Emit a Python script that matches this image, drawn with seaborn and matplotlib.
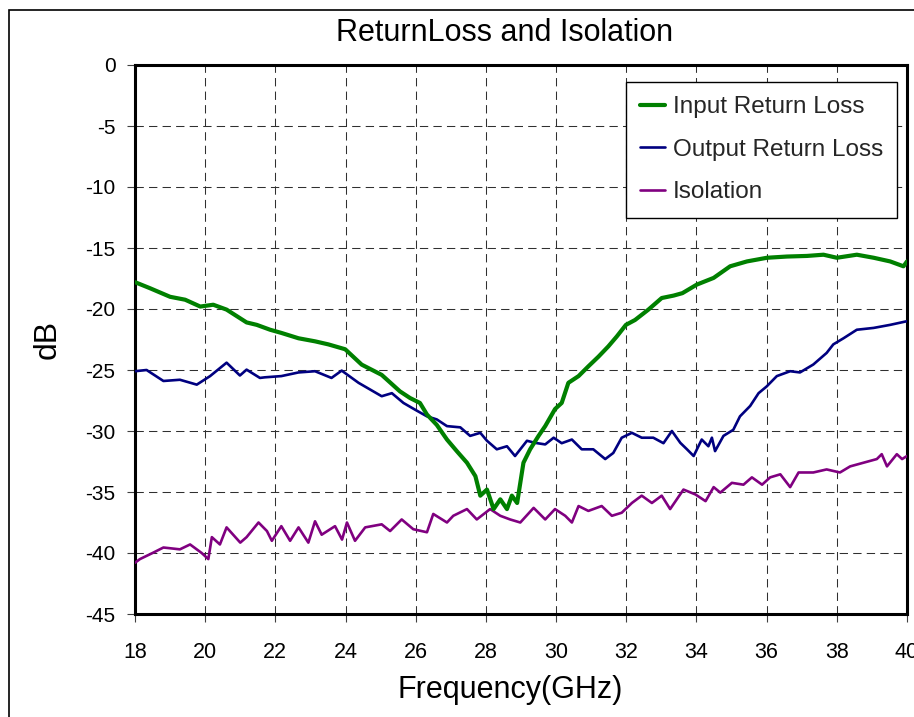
import matplotlib
matplotlib.use("Agg")
import matplotlib.pyplot as plt
import seaborn as sns
import pandas as pd
from matplotlib.patches import Rectangle

# ---------------- data ----------------
freq_input = [18.0, 18.43, 19.0, 19.43, 19.86, 20.23, 20.61, 21.18, 21.47, 21.85,
              22.17, 22.66, 23.13, 23.51, 23.99, 24.46, 25.03, 25.55, 25.84, 26.12,
              26.32, 26.6, 26.89, 27.17, 27.46, 27.7, 27.84, 28.03, 28.22, 28.41,
              28.6, 28.74, 28.89, 29.07, 29.26, 29.5, 29.69, 29.97, 30.16, 30.35,
              30.64, 30.92, 31.21, 31.49, 31.73, 31.99, 32.25, 32.63, 33.01, 33.35,
              33.6, 34.01, 34.49, 34.96, 35.44, 36.01, 36.58, 37.15, 37.62, 38.0,
              38.57, 39.05, 39.52, 39.9, 40.0]
input_rl = [-17.8, -18.3, -19.0, -19.24, -19.8, -19.65, -20.05, -21.1, -21.3, -21.7,
            -21.96, -22.4, -22.65, -22.9, -23.3, -24.56, -25.4, -26.75, -27.3, -27.7,
            -28.65, -29.5, -30.7, -31.65, -32.6, -33.7, -35.3, -34.8, -36.4, -35.6,
            -36.4, -35.3, -35.9, -32.6, -31.5, -30.4, -29.6, -28.2, -27.7, -26.05,
            -25.5, -24.7, -23.9, -23.06, -22.25, -21.3, -20.9, -20.05, -19.1, -18.9,
            -18.7, -18.0, -17.45, -16.5, -16.1, -15.8, -15.7, -15.65, -15.55, -15.8,
            -15.55, -15.8, -16.1, -16.5, -16.1]

freq_output = [18.0, 18.33, 18.81, 19.28, 19.76, 20.14, 20.61, 20.99, 21.18, 21.56,
               21.7, 22.17, 22.66, 23.13, 23.6, 23.89, 24.37, 25.03, 25.32, 25.65,
               25.98, 26.32, 26.6, 26.89, 27.27, 27.55, 27.84, 28.03, 28.31, 28.6,
               28.83, 29.17, 29.4, 29.69, 29.93, 30.16, 30.45, 30.73, 31.06, 31.4,
               31.63, 31.87, 32.16, 32.44, 32.77, 33.06, 33.3, 33.54, 33.73, 33.92,
               34.15, 34.34, 34.44, 34.53, 34.77, 35.05, 35.24, 35.53, 35.77, 36.0,
               36.29, 36.67, 36.95, 37.33, 37.71, 37.9, 38.19, 38.57, 39.05, 39.52, 40.0]
output_rl = [-25.1, -25.0, -25.9, -25.8, -26.2, -25.5, -24.4, -25.45, -24.97, -25.65,
             -25.6, -25.5, -25.2, -25.1, -25.65, -25.05, -26.05, -27.15, -26.9, -27.7,
             -28.25, -28.8, -29.05, -29.6, -29.7, -30.4, -30.15, -30.8, -31.5, -31.25,
             -32.05, -30.8, -30.97, -31.1, -30.55, -31.0, -30.7, -31.5, -31.5, -32.3,
             -31.8, -30.55, -30.15, -30.55, -30.55, -31.0, -30.0, -30.97, -31.5, -32.05,
             -30.7, -31.25, -30.55, -31.65, -30.4, -29.9, -28.8, -27.95, -26.9, -26.35,
             -25.5, -25.1, -25.2, -24.55, -23.6, -22.9, -22.4, -21.7, -21.55, -21.3, -21.0]

freq_iso = [18.0, 18.14, 18.5, 18.81, 19.28, 19.57, 19.9, 20.09, 20.19, 20.42,
            20.61, 21.0, 21.18, 21.52, 21.76, 21.9, 22.17, 22.42, 22.66, 22.94,
            23.13, 23.32, 23.7, 23.9, 24.04, 24.27, 24.56, 25.03, 25.27, 25.6,
            25.93, 26.32, 26.5, 26.89, 27.07, 27.46, 27.74, 28.12, 28.41, 28.69,
            28.98, 29.36, 29.69, 29.97, 30.26, 30.45, 30.64, 30.92, 31.3, 31.59,
            31.87, 32.16, 32.44, 32.73, 33.01, 33.25, 33.63, 33.97, 34.26, 34.49,
            34.68, 35.01, 35.34, 35.58, 35.87, 36.1, 36.39, 36.67, 36.91, 37.33,
            37.71, 38.09, 38.38, 38.76, 39.14, 39.28, 39.43, 39.71, 39.86, 40.0]
isolation = [-40.8, -40.5, -40.0, -39.55, -39.7, -39.3, -40.0, -40.5, -38.7, -39.3,
             -37.9, -39.15, -38.7, -37.5, -38.2, -39.0, -37.8, -39.0, -37.9, -39.15,
             -37.4, -38.5, -37.8, -38.9, -37.5, -39.0, -37.9, -37.65, -38.2, -37.25,
             -38.05, -38.3, -36.8, -37.5, -36.95, -36.4, -37.25, -36.4, -36.95, -37.25,
             -37.5, -36.3, -37.25, -36.4, -36.95, -37.5, -36.15, -36.55, -36.15, -36.95,
             -36.7, -35.9, -35.3, -35.9, -35.3, -36.4, -34.8, -35.2, -35.75, -34.6,
             -35.05, -34.25, -34.4, -33.8, -34.4, -33.8, -33.55, -34.6, -33.4, -33.4,
             -33.15, -33.4, -32.9, -32.6, -32.3, -31.9, -32.9, -31.9, -32.3, -32.05]

series_names = ["Input Return Loss", "Output Return Loss", "Isolation"]
series_colors = ["#008000", "#000080", "#800080"]
x_ticks = list(range(18, 41, 2))
y_ticks = list(range(-45, 1, 5))

# ---------------- plotting ----------------
sns.set_theme(style="white")
plt.rcParams["font.family"] = ["Liberation Sans", "DejaVu Sans"]

fig = plt.figure(figsize=(9.14, 7.17), dpi=100)
ax = fig.add_axes([135 / 914, 1 - 614 / 717, (907 - 135) / 914, (614 - 65) / 717])

df_in = pd.DataFrame({"f": freq_input, "v": input_rl})
df_out = pd.DataFrame({"f": freq_output, "v": output_rl})
df_iso = pd.DataFrame({"f": freq_iso, "v": isolation})

sns.lineplot(data=df_in, x="f", y="v", ax=ax, color=series_colors[0], lw=3.0,
             label=series_names[0], zorder=4)
sns.lineplot(data=df_out, x="f", y="v", ax=ax, color=series_colors[1], lw=1.9,
             label=series_names[1], zorder=3)
sns.lineplot(data=df_iso, x="f", y="v", ax=ax, color=series_colors[2], lw=1.9,
             label=series_names[2], zorder=3)

ax.set_xlim(18, 40)
ax.set_ylim(-45, 0)
ax.set_xticks(x_ticks)
ax.set_yticks(y_ticks)
ax.set_xticklabels([str(t) for t in x_ticks])
ax.set_yticklabels([str(t) for t in y_ticks])
ax.grid(True, color="#303030", linestyle=(0, (8, 5)), linewidth=0.75)
ax.set_axisbelow(True)

for s in ax.spines.values():
    s.set_visible(True)
    s.set_color("black")
    s.set_linewidth(2.2)

ax.tick_params(axis="x", which="major", direction="out", length=6, width=0.8,
               color="#404040", pad=14, labelsize=15.5, bottom=True)
ax.tick_params(axis="y", which="major", direction="out", length=6, width=0.8,
               color="#404040", pad=8, labelsize=15, left=True)
for lbl in ax.get_xticklabels() + ax.get_yticklabels():
    lbl.set_color("black")

ax.set_xlabel("Frequency(GHz)", fontsize=22, color="black", labelpad=5)
ax.xaxis.set_label_coords((510 - 135) / 772, -0.112)
ax.set_ylabel("dB", fontsize=23, color="black", labelpad=16)
ax.set_title("ReturnLoss and Isolation", fontsize=22, color="black", pad=17,
             x=(505 - 135) / 772)

leg = ax.legend(loc="upper right", bbox_to_anchor=(0.987, 0.969), borderaxespad=0,
                fontsize=17.5, frameon=True, fancybox=False, shadow=False,
                handlelength=1.05, handletextpad=0.3, borderpad=0.58,
                labelspacing=0.85, edgecolor="black", facecolor="white", framealpha=1)
leg.get_frame().set_linewidth(1.0)
for h, w in zip(leg.get_lines(), [3.0, 1.9, 1.9]):
    h.set_linewidth(w)

# figure outer frame
fig.patches.append(Rectangle((8.5 / 914, -0.1), 1.2, 1.1 - 10 / 717,
                             transform=fig.transFigure, fill=False,
                             edgecolor="black", linewidth=1.2, zorder=0))

fig.savefig("out.png", dpi=100)
